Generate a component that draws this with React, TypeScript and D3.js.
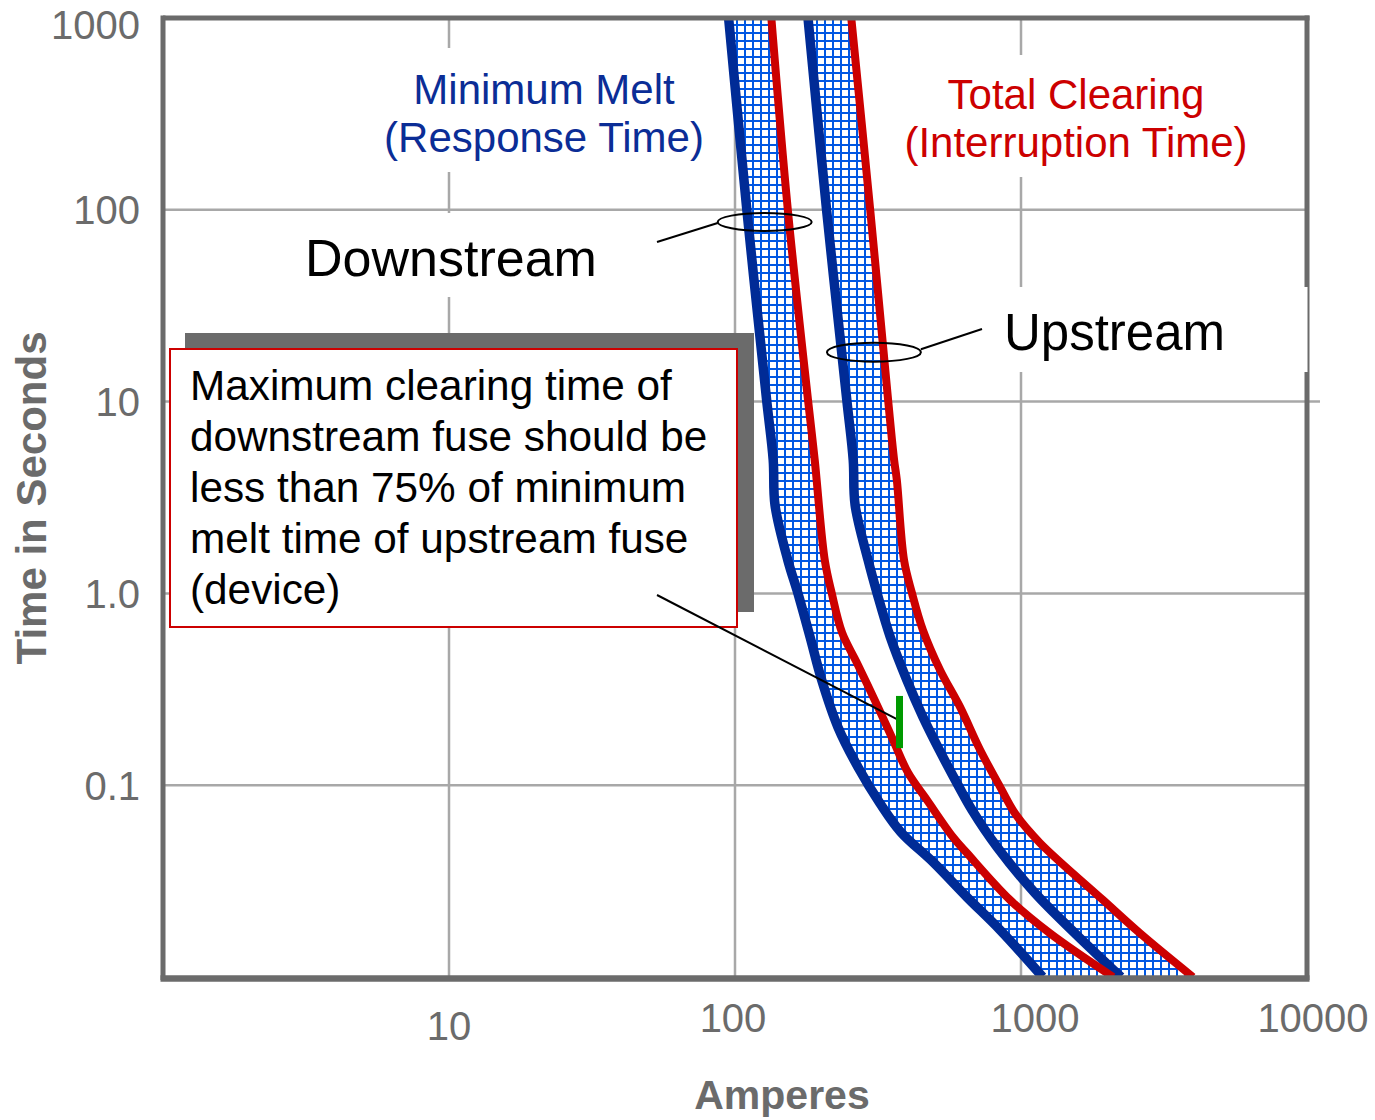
import React from "react";
import * as d3 from "d3";

// ---- Data (amperes, seconds) ----
const downstreamMinMelt: [number, number][] = [
  [95, 1000], [110, 100], [129, 10.2], [136, 4.96], [138, 2.89], [153, 1.49], [166, 1.0],
  [183, 0.593], [201, 0.353], [229, 0.201], [269, 0.1245], [321, 0.0807], [380, 0.057],
  [492, 0.0398], [647, 0.0261], [845, 0.0176], [1190, 0.01],
];
const downstreamTotalClear: [number, number][] = [
  [134, 1000], [153, 100], [180, 10.2], [190, 4.96], [206, 1.49], [218, 1.0], [237, 0.622],
  [267, 0.434], [316, 0.256], [357, 0.172], [403, 0.116], [469, 0.0837], [578, 0.0537],
  [647, 0.0443], [916, 0.0252], [1262, 0.0169], [2099, 0.01],
];
const upstreamMinMelt: [number, number][] = [
  [180, 1000], [209, 100], [246, 10.2], [259, 4.96], [263, 2.89], [292, 1.49], [314, 1.0],
  [349, 0.593], [399, 0.353], [454, 0.227], [525, 0.147], [607, 0.098], [674, 0.0743],
  [824, 0.0477], [1119, 0.0274], [1545, 0.0169], [2237, 0.01],
];
const upstreamTotalClear: [number, number][] = [
  [255, 1000], [297, 100], [343, 10.2], [360, 4.96], [368, 3.9], [390, 1.49], [416, 1.0],
  [454, 0.644], [521, 0.399], [612, 0.256], [719, 0.153], [845, 0.098], [961, 0.07],
  [1165, 0.05], [1936, 0.0252], [2607, 0.0169], [3991, 0.01],
];

const xTicks = [10, 100, 1000, 10000];
const xTickLabels = ["10", "100", "1000", "10000"];
const yTicks = [1000, 100, 10, 1, 0.1];
const yTickLabels = ["1000", "100", "10", "1.0", "0.1"];

// Annotation anchors (data units)
const greenMarkAmps = 376;
const greenMarkTimes: [number, number] = [0.292, 0.156];
const leaderEnd: [number, number] = [368, 0.221];
const downstreamEllipse: [number, number] = [127, 86.4];
const upstreamEllipse: [number, number] = [306, 18.1];

const boxLines = [
  "Maximum clearing time of",
  "downstream fuse should be",
  "less than 75% of minimum",
  "melt time of upstream fuse",
  "(device)",
];

// ---- Layout ----
const W = 1375, H = 1120;
const L = 163, R = 1307, T = 18, B = 977;
const FONT = "'Liberation Sans', Arial, Helvetica, sans-serif";
const GRAY = "#6b6b6b";
const GRID = "#a8a8a8";
const NAVY = "#002b96";
const RED = "#cc0000";
const xLabelNudge = [{ dx: 0, dy: 1040 }, { dx: -2, dy: 1032 }, { dx: 14, dy: 1032 }, { dx: 6, dy: 1032 }];

export default function App() {
  const x = d3.scaleLog().domain([1, 10000]).range([L, R]);
  const y = d3.scaleLog().domain([0.01, 1000]).range([B, T]);

  const line = d3
    .line<[number, number]>()
    .x((d) => x(d[0]))
    .y((d) => y(d[1]))
    .curve(d3.curveCatmullRom.alpha(0.5));

  const band = (a: [number, number][], b: [number, number][]) => {
    const p1 = line(a) as string;
    const p2 = (line([...b].reverse()) as string).replace(/^M/, "L");
    return p1 + p2 + "Z";
  };

  const bands = [
    band(downstreamMinMelt, downstreamTotalClear),
    band(upstreamMinMelt, upstreamTotalClear),
  ];

  return (
    <svg
      width={W}
      height={H}
      style={{ position: "absolute", left: 0, top: 0, background: "#fff" }}
      fontFamily={FONT}
    >
      <defs>
        <pattern id="grid" patternUnits="userSpaceOnUse" width={8} height={8}>
          <rect width={8} height={8} fill="#fff" />
          <path d="M0,1H8M1,0V8" stroke="#0057e3" strokeWidth={2} />
        </pattern>
        <clipPath id="plot">
          <rect x={L} y={T} width={R - L} height={B - T} />
        </clipPath>
      </defs>

      {/* gridlines */}
      {xTicks.slice(0, 3).map((v) => (
        <line key={"gx" + v} x1={x(v)} x2={x(v)} y1={T} y2={B} stroke={GRID} strokeWidth={2.5} />
      ))}
      {yTicks.slice(1).map((v) => (
        <line key={"gy" + v} x1={L} x2={v === 10 ? 1320 : R} y1={y(v)} y2={y(v)} stroke={GRID} strokeWidth={2.5} />
      ))}

      {/* bands */}
      <g clipPath="url(#plot)">
        {bands.map((d, i) => (
          <path key={"b" + i} d={d} fill="url(#grid)" stroke="#000" strokeWidth={1.6} />
        ))}
        {[downstreamMinMelt, upstreamMinMelt].map((d, i) => (
          <path key={"mm" + i} d={line(d) as string} fill="none" stroke={NAVY} strokeWidth={9.5} />
        ))}
        {[downstreamTotalClear, upstreamTotalClear].map((d, i) => (
          <path key={"tc" + i} d={line(d) as string} fill="none" stroke={RED} strokeWidth={8} />
        ))}
      </g>

      {/* white label backgrounds */}
      <rect x={380} y={48} width={327} height={124} fill="#fff" />
      <rect x={900} y={55} width={352} height={122} fill="#fff" />
      <rect x={282} y={213} width={375} height={84} fill="#fff" />
      <rect x={990} y={287} width={315} height={85} fill="#fff" />

      {/* frame */}
      <line x1={L} x2={L} y1={T - 2.5} y2={B + 3} stroke={GRAY} strokeWidth={5} />
      <line x1={R} x2={R} y1={T - 2.5} y2={287} stroke={GRAY} strokeWidth={5} />
      <line x1={R + 1.5} x2={R + 1.5} y1={287} y2={372} stroke={GRAY} strokeWidth={2} />
      <line x1={R} x2={R} y1={372} y2={B + 3} stroke={GRAY} strokeWidth={5} />
      <line x1={L} x2={R + 2.5} y1={T} y2={T} stroke={GRAY} strokeWidth={5} />
      <line x1={L - 2.5} x2={R + 2.5} y1={B + 1.5} y2={B + 1.5} stroke={GRAY} strokeWidth={6.5} />

      {/* tick labels */}
      {yTicks.map((v, i) => (
        <text key={"yl" + v} x={140} y={Math.max(y(v) + 14.5, 39)} textAnchor="end" fontSize={40} fill={GRAY}>
          {yTickLabels[i]}
        </text>
      ))}
      {xTicks.map((v, i) => (
        <text key={"xl" + v} x={x(v) + xLabelNudge[i].dx} y={xLabelNudge[i].dy} textAnchor="middle" fontSize={40} fill={GRAY}>
          {xTickLabels[i]}
        </text>
      ))}

      {/* axis titles */}
      <text x={782} y={1109} textAnchor="middle" fontSize={41} fontWeight="bold" fill={GRAY}>
        Amperes
      </text>
      <text transform="translate(46,498) rotate(-90)" textAnchor="middle" fontSize={42} fontWeight="bold" fill={GRAY}>
        Time in Seconds
      </text>

      {/* series captions */}
      <text x={544} y={104} textAnchor="middle" fontSize={42} fill="#0b2d96">Minimum Melt</text>
      <text x={544} y={152} textAnchor="middle" fontSize={42} fill="#0b2d96">(Response Time)</text>
      <text x={1076} y={109} textAnchor="middle" fontSize={42} fill={RED}>Total Clearing</text>
      <text x={1076} y={157} textAnchor="middle" fontSize={42} fill={RED}>(Interruption Time)</text>

      {/* Downstream / Upstream labels */}
      <text x={305} y={276} fontSize={52} fill="#000">Downstream</text>
      <text x={1004} y={350} fontSize={51} fill="#000">Upstream</text>
      <line x1={657} y1={242} x2={x(downstreamEllipse[0]) - 47} y2={y(downstreamEllipse[1]) + 1} stroke="#000" strokeWidth={2} />
      <ellipse cx={x(downstreamEllipse[0])} cy={y(downstreamEllipse[1])} rx={47} ry={9} fill="none" stroke="#000" strokeWidth={2} />
      <line x1={982} y1={329} x2={x(upstreamEllipse[0]) + 47} y2={y(upstreamEllipse[1]) - 3} stroke="#000" strokeWidth={2} />
      <ellipse cx={x(upstreamEllipse[0])} cy={y(upstreamEllipse[1])} rx={47} ry={9.5} fill="none" stroke="#000" strokeWidth={2} />

      {/* annotation box */}
      <rect x={185} y={333} width={569} height={279} fill={GRAY} />
      <rect x={170} y={349} width={567} height={278} fill="#fff" stroke={RED} strokeWidth={2} />
      {boxLines.map((s, i) => (
        <text key={"bl" + i} x={190} y={400 + i * 51} fontSize={42.3} fill="#000">
          {s}
        </text>
      ))}
      <line x1={657} y1={595} x2={x(leaderEnd[0])} y2={y(leaderEnd[1])} stroke="#000" strokeWidth={2} />

      {/* green mark */}
      <line
        x1={x(greenMarkAmps)}
        x2={x(greenMarkAmps)}
        y1={y(greenMarkTimes[0])}
        y2={y(greenMarkTimes[1])}
        stroke="#009a00"
        strokeWidth={7}
      />
    </svg>
  );
}
